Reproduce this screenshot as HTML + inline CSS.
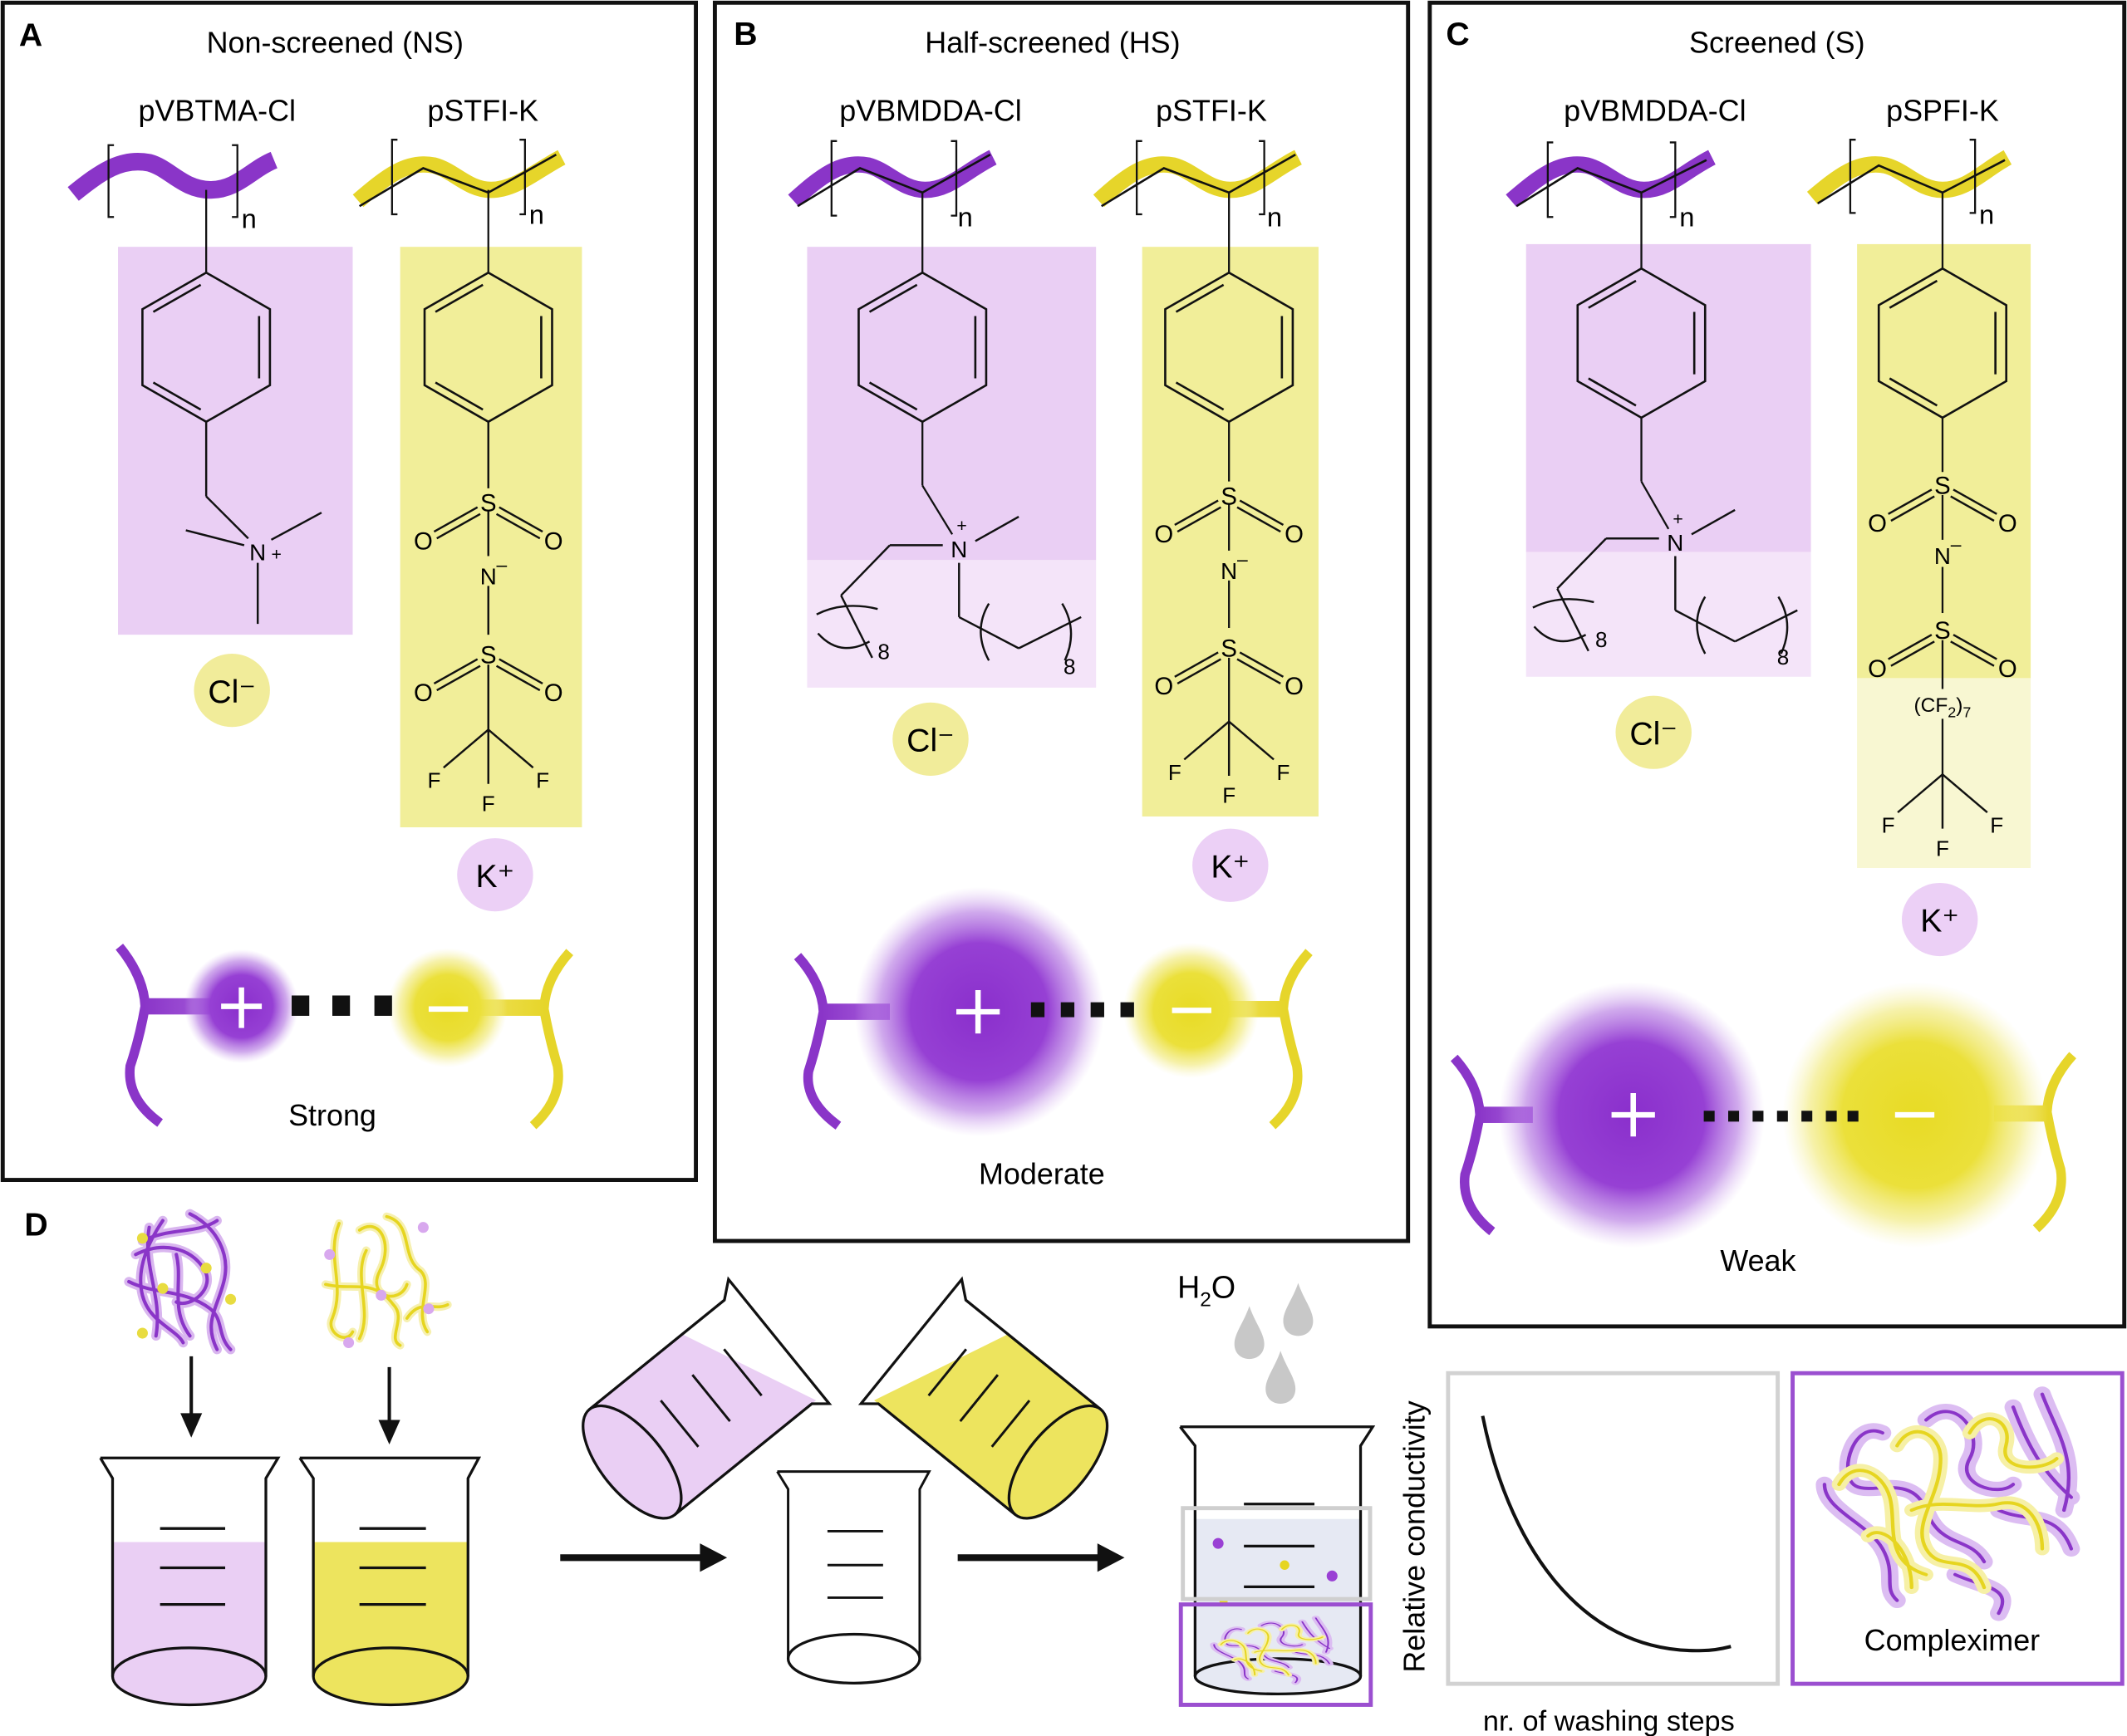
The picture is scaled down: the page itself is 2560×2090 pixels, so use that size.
<!DOCTYPE html>
<html><head><meta charset="utf-8"><style>
html,body{margin:0;padding:0;background:#fff}
svg{display:block}
text{font-family:"Liberation Sans",sans-serif}
</style></head><body>
<svg width="2560" height="2090" viewBox="0 0 1568 1280" preserveAspectRatio="none" xmlns="http://www.w3.org/2000/svg">
<defs>
<radialGradient id="gp"><stop offset="0" stop-color="#8a2fcc"/><stop offset="0.55" stop-color="#9640d4"/><stop offset="0.8" stop-color="#b070e0" stop-opacity="0.6"/><stop offset="1" stop-color="#d0a8ee" stop-opacity="0"/></radialGradient>
<radialGradient id="gy"><stop offset="0" stop-color="#e8db25"/><stop offset="0.55" stop-color="#ebe03a"/><stop offset="0.8" stop-color="#f0e870" stop-opacity="0.6"/><stop offset="1" stop-color="#f6f1a8" stop-opacity="0"/></radialGradient>
<linearGradient id="stubp" x1="0" x2="1"><stop offset="0" stop-color="#8a35c8"/><stop offset="1" stop-color="#a860dc"/></linearGradient>
<linearGradient id="stuby" x1="1" x2="0"><stop offset="0" stop-color="#e6d52a"/><stop offset="1" stop-color="#efe25a"/></linearGradient>
<g id="benz" fill="none" stroke="#111" stroke-width="1.6">
<polygon points="0,0 47,27 47,83 0,110 -47,83 -47,27"/>
<line x1="-4" y1="9" x2="-39" y2="29"/><line x1="39" y1="32" x2="39" y2="78"/><line x1="-39" y1="81" x2="-4" y2="101"/>
</g>
<g id="so2">
<g stroke="#111" stroke-width="1.5"><line x1="-8" y1="4" x2="-40" y2="22"/><line x1="-6" y1="9" x2="-38" y2="27"/><line x1="8" y1="4" x2="40" y2="22"/><line x1="6" y1="9" x2="38" y2="27"/></g>
<text x="0" y="7" font-size="18" text-anchor="middle">S</text>
<text x="-48" y="35" font-size="18" text-anchor="middle">O</text>
<text x="48" y="35" font-size="18" text-anchor="middle">O</text>
</g>
<g id="cf3" stroke="#111" stroke-width="1.5" font-size="16">
<line x1="0" y1="0" x2="-33" y2="28"/><line x1="0" y1="0" x2="33" y2="28"/><line x1="0" y1="0" x2="0" y2="40"/>
<text x="-40" y="43" stroke="none" text-anchor="middle">F</text><text x="40" y="43" stroke="none" text-anchor="middle">F</text><text x="0" y="60" stroke="none" text-anchor="middle">F</text>
</g>
<g id="quat" fill="none" stroke="#111" stroke-width="1.5">
<line x1="-12" y1="-3" x2="-51" y2="-3"/><line x1="-51" y1="-3" x2="-87" y2="34"/><line x1="-87" y1="34" x2="-64" y2="80"/>
<path d="M-105,48 Q-85,38 -60,44"/><path d="M-104,62 Q-88,80 -66,68"/>
<line x1="0" y1="10" x2="0" y2="50"/><line x1="0" y1="50" x2="44" y2="73"/><line x1="44" y1="73" x2="90" y2="50"/>
<path d="M22,40 Q10,60 22,82"/><path d="M76,40 Q88,60 78,82"/>
<line x1="12" y1="-6" x2="44" y2="-24"/>
</g>
<g id="coilP" fill="none" stroke-linecap="round">
<g stroke="#d9b6ef" stroke-width="7">
<path d="M0,10 C-5,40 10,60 5,90 M-10,30 C10,20 30,25 40,40 C50,55 30,70 20,65 M30,0 C50,10 60,30 55,50 C50,70 40,80 50,100 M-15,50 C5,60 25,55 45,70 C55,78 50,90 60,100 M10,5 C0,20 -10,40 -5,60 C0,80 20,85 25,95 M20,30 C25,50 15,70 30,90 M-5,20 C15,10 35,15 50,5"/>
</g>
<g stroke="#8a35c8" stroke-width="2.5">
<path d="M0,10 C-5,40 10,60 5,90 M-10,30 C10,20 30,25 40,40 C50,55 30,70 20,65 M30,0 C50,10 60,30 55,50 C50,70 40,80 50,100 M-15,50 C5,60 25,55 45,70 C55,78 50,90 60,100 M10,5 C0,20 -10,40 -5,60 C0,80 20,85 25,95 M20,30 C25,50 15,70 30,90 M-5,20 C15,10 35,15 50,5"/>
</g>
</g>
<g id="coilY" fill="none" stroke-linecap="round">
<g stroke="#f6f0b0" stroke-width="6">
<path d="M5,5 C-5,30 10,50 0,75 C-5,85 10,95 15,85 M20,10 C35,0 45,20 35,40 C25,60 50,65 55,50 M40,0 C60,5 50,30 65,40 C75,50 60,70 70,85 M-5,50 C15,55 30,45 45,65 C55,75 40,90 50,95 M25,25 C15,45 30,70 20,90 M55,75 C65,60 75,70 85,65"/>
</g>
<g stroke="#e6d520" stroke-width="2.2">
<path d="M5,5 C-5,30 10,50 0,75 C-5,85 10,95 15,85 M20,10 C35,0 45,20 35,40 C25,60 50,65 55,50 M40,0 C60,5 50,30 65,40 C75,50 60,70 70,85 M-5,50 C15,55 30,45 45,65 C55,75 40,90 50,95 M25,25 C15,45 30,70 20,90 M55,75 C65,60 75,70 85,65"/>
</g>
</g>
<g id="cplx" fill="none" stroke-linecap="round">
<g stroke="#dcbdf2" stroke-width="12">
<path d="M40,30 C20,20 10,60 20,70 C30,80 60,60 70,90 C80,120 100,110 110,130 M70,20 C90,0 110,30 100,50 C90,70 120,80 130,70 M130,10 C140,40 150,60 170,80 M0,70 C0,90 30,100 40,120 C50,140 40,150 50,160 M120,90 C140,100 160,90 170,120 M90,140 C110,150 130,150 120,170 M150,0 C160,30 175,50 165,90"/>
</g>
<g stroke="#8a35c8" stroke-width="2.5">
<path d="M40,30 C20,20 10,60 20,70 C30,80 60,60 70,90 C80,120 100,110 110,130 M70,20 C90,0 110,30 100,50 C90,70 120,80 130,70 M130,10 C140,40 150,60 170,80 M0,70 C0,90 30,100 40,120 C50,140 40,150 50,160 M120,90 C140,100 160,90 170,120 M90,140 C110,150 130,150 120,170 M150,0 C160,30 175,50 165,90"/>
</g>
<g stroke="#f6f0a6" stroke-width="10">
<path d="M10,70 C20,50 40,60 45,80 C50,100 40,130 70,140 M50,40 C60,20 80,30 80,50 C80,80 60,100 70,120 C80,140 100,120 110,150 M100,30 C110,10 130,20 125,40 C120,60 150,60 160,50 M60,90 C80,80 100,90 120,85 C140,80 150,100 150,120 M30,110 C40,100 60,120 60,150"/>
</g>
<g stroke="#e6d520" stroke-width="2.5">
<path d="M10,70 C20,50 40,60 45,80 C50,100 40,130 70,140 M50,40 C60,20 80,30 80,50 C80,80 60,100 70,120 C80,140 100,120 110,150 M100,30 C110,10 130,20 125,40 C120,60 150,60 160,50 M60,90 C80,80 100,90 120,85 C140,80 150,100 150,120 M30,110 C40,100 60,120 60,150"/>
</g>
</g>
<path id="drop" d="M0,0 C4,12 11,20 11,28 C11,35 6,39 0,39 C-6,39 -11,35 -11,28 C-11,20 -4,12 0,0 Z" fill="#c8c8c8"/>
</defs>

<rect x="2" y="2" width="511" height="868" fill="none" stroke="#111" stroke-width="3"/>
<rect x="527" y="2" width="511" height="913" fill="none" stroke="#111" stroke-width="3"/>
<rect x="1054" y="2" width="512" height="976" fill="none" stroke="#111" stroke-width="3"/>

<!-- Panel A -->
<text x="14" y="34" font-size="24" font-weight="bold">A</text>
<text x="247" y="39" font-size="22" text-anchor="middle">Non-screened (NS)</text>
<text x="160" y="89" font-size="22" text-anchor="middle">pVBTMA-Cl</text>
<text x="356" y="89" font-size="22" text-anchor="middle">pSTFI-K</text>
<rect x="87" y="182" width="173" height="286" fill="#eacff4"/>
<rect x="295" y="182" width="134" height="428" fill="#f1ee99"/>
<path d="M54,143 C75,126 90,116 110,120 C125,124 135,140 155,140 C175,140 185,125 202,118" fill="none" stroke="#8a35c8" stroke-width="13"/>
<path d="M264,148 C285,130 300,118 320,122 C335,126 345,140 362,140 C380,140 395,126 414,116" fill="none" stroke="#e6d52a" stroke-width="12"/>
<path d="M265,152 L312,124 L360,142 L410,114" fill="none" stroke="#111" stroke-width="1.6"/>
<g fill="none" stroke="#111" stroke-width="1.4">
<path d="M84,107 L80,107 L80,160 L84,160"/><path d="M171,107 L175,107 L175,160 L171,160"/>
<path d="M293,103 L289,103 L289,158 L293,158"/><path d="M383,103 L387,103 L387,158 L383,158"/>
<line x1="152" y1="140" x2="152" y2="201"/><line x1="360" y1="140" x2="360" y2="201"/>
</g>
<text x="178" y="168" font-size="20">n</text><text x="390" y="165" font-size="20">n</text>
<use href="#benz" x="152" y="201"/>
<use href="#benz" x="360" y="201"/>
<g stroke="#111" stroke-width="1.5" fill="none">
<line x1="152" y1="311" x2="152" y2="366"/><line x1="152" y1="366" x2="183" y2="397"/>
<line x1="137" y1="391" x2="180" y2="402"/><line x1="200" y1="398" x2="237" y2="378"/><line x1="190" y1="415" x2="190" y2="460"/>
<line x1="360" y1="311" x2="360" y2="360"/><line x1="360" y1="377" x2="360" y2="410"/><line x1="360" y1="432" x2="360" y2="468"/><line x1="360" y1="490" x2="360" y2="538"/>
</g>
<text x="190" y="413" font-size="17" text-anchor="middle">N</text><text x="200" y="413" font-size="13">+</text>
<use href="#so2" x="360" y="370"/>
<text x="360" y="431" font-size="17" text-anchor="middle">N</text><text x="366" y="421" font-size="14">–</text>
<use href="#so2" x="360" y="482"/>
<use href="#cf3" x="360" y="538"/>
<ellipse cx="171" cy="509" rx="28" ry="27" fill="#f1ec9a"/>
<text x="171" y="518" font-size="24" text-anchor="middle">Cl⁻</text>
<ellipse cx="365" cy="645" rx="28" ry="27" fill="#ecd0f6"/>
<text x="365" y="654" font-size="24" text-anchor="middle">K⁺</text>
<path d="M88,698 Q106,720 107,742 Q103,765 96,786 Q93,810 118,828" fill="none" stroke="#8a35c8" stroke-width="7"/>
<rect x="106" y="736" width="60" height="12" fill="url(#stubp)"/>
<circle cx="178" cy="742" r="42" fill="url(#gp)"/>
<path d="M420,702 Q402,722 401,744 Q405,766 411,786 Q415,810 393,830" fill="none" stroke="#e6d52a" stroke-width="7"/>
<rect x="345" y="737" width="57" height="12" fill="url(#stuby)"/>
<circle cx="330" cy="743" r="44" fill="url(#gy)"/>
<rect x="215" y="734" width="13" height="15" fill="#111"/><rect x="245" y="734" width="13" height="15" fill="#111"/><rect x="276" y="734" width="13" height="15" fill="#111"/>
<path d="M178,728 V758 M163,742 H193" stroke="#fff" stroke-width="4"/>
<path d="M316,744 H345" stroke="#fff" stroke-width="4"/>
<text x="245" y="830" font-size="22" text-anchor="middle">Strong</text>

<!-- Panel B -->
<text x="541" y="33" font-size="24" font-weight="bold">B</text>
<text x="776" y="39" font-size="22" text-anchor="middle">Half-screened (HS)</text>
<text x="686" y="89" font-size="22" text-anchor="middle">pVBMDDA-Cl</text>
<text x="893" y="89" font-size="22" text-anchor="middle">pSTFI-K</text>
<rect x="595" y="182" width="213" height="231" fill="#eacff4"/>
<rect x="595" y="413" width="213" height="94" fill="#f4e4f9"/>
<rect x="842" y="182" width="130" height="420" fill="#f1ee99"/>
<path d="M585,148 C605,130 620,118 640,122 C655,126 665,140 682,140 C700,140 712,126 732,116" fill="none" stroke="#8a35c8" stroke-width="12"/>
<path d="M588,152 L634,124 L680,142 L730,114" fill="none" stroke="#111" stroke-width="1.6"/>
<path d="M810,148 C830,130 845,118 865,122 C880,126 890,140 907,140 C925,140 937,126 957,116" fill="none" stroke="#e6d52a" stroke-width="12"/>
<path d="M812,152 L858,124 L906,142 L955,114" fill="none" stroke="#111" stroke-width="1.6"/>
<g fill="none" stroke="#111" stroke-width="1.4">
<path d="M617,104 L613,104 L613,159 L617,159"/><path d="M701,104 L705,104 L705,159 L701,159"/>
<path d="M842,104 L838,104 L838,158 L842,158"/><path d="M928,104 L932,104 L932,158 L928,158"/>
<line x1="680" y1="142" x2="680" y2="201"/><line x1="906" y1="142" x2="906" y2="201"/>
<line x1="680" y1="311" x2="680" y2="358"/><line x1="680" y1="358" x2="702" y2="394"/>
<line x1="906" y1="311" x2="906" y2="355"/><line x1="906" y1="372" x2="906" y2="406"/><line x1="906" y1="428" x2="906" y2="463"/><line x1="906" y1="485" x2="906" y2="532"/>
</g>
<text x="706" y="167" font-size="20">n</text><text x="934" y="167" font-size="20">n</text>
<use href="#benz" x="680" y="201"/><use href="#benz" x="906" y="201"/>
<use href="#quat" x="707" y="405"/>
<text x="707" y="411" font-size="17" text-anchor="middle">N</text><text x="709" y="392" font-size="13" text-anchor="middle">+</text>
<text x="647" y="486" font-size="16">8</text><text x="784" y="497" font-size="16">8</text>
<use href="#so2" x="906" y="365"/>
<text x="906" y="427" font-size="17" text-anchor="middle">N</text><text x="912" y="417" font-size="14">–</text>
<use href="#so2" x="906" y="477"/>
<use href="#cf3" x="906" y="532"/>
<ellipse cx="686" cy="545" rx="28" ry="27" fill="#f1ec9a"/>
<text x="686" y="554" font-size="24" text-anchor="middle">Cl⁻</text>
<ellipse cx="907" cy="638" rx="28" ry="27" fill="#ecd0f6"/>
<text x="907" y="647" font-size="24" text-anchor="middle">K⁺</text>
<path d="M588,705 Q606,725 607,746 Q603,768 596,790 Q593,812 618,830" fill="none" stroke="#8a35c8" stroke-width="7"/>
<rect x="606" y="740" width="50" height="12" fill="url(#stubp)"/>
<circle cx="722" cy="746" r="92" fill="url(#gp)"/>
<path d="M965,702 Q947,722 946,744 Q950,766 956,786 Q960,810 938,830" fill="none" stroke="#e6d52a" stroke-width="7"/>
<rect x="900" y="738" width="48" height="12" fill="url(#stuby)"/>
<circle cx="878" cy="745" r="50" fill="url(#gy)"/>
<rect x="760" y="739" width="10" height="11" fill="#111"/><rect x="782" y="739" width="10" height="11" fill="#111"/><rect x="804" y="739" width="10" height="11" fill="#111"/><rect x="826" y="739" width="10" height="11" fill="#111"/>
<path d="M721,730 V762 M705,746 H737" stroke="#fff" stroke-width="4"/>
<path d="M864,745 H893" stroke="#fff" stroke-width="4"/>
<text x="768" y="873" font-size="22" text-anchor="middle">Moderate</text>

<!-- Panel C -->
<text x="1066" y="33" font-size="24" font-weight="bold">C</text>
<text x="1310" y="39" font-size="22" text-anchor="middle">Screened (S)</text>
<text x="1220" y="89" font-size="22" text-anchor="middle">pVBMDDA-Cl</text>
<text x="1432" y="89" font-size="22" text-anchor="middle">pSPFI-K</text>
<rect x="1125" y="180" width="210" height="227" fill="#eacff4"/>
<rect x="1125" y="407" width="210" height="92" fill="#f4e4f9"/>
<rect x="1369" y="180" width="128" height="320" fill="#f1ee99"/>
<rect x="1369" y="500" width="128" height="140" fill="#f8f7d2"/>
<path d="M1114,148 C1135,130 1150,118 1170,122 C1185,126 1195,140 1212,140 C1230,140 1242,126 1262,116" fill="none" stroke="#8a35c8" stroke-width="12"/>
<path d="M1118,152 L1163,124 L1210,142 L1258,118" fill="none" stroke="#111" stroke-width="1.6"/>
<path d="M1336,146 C1355,130 1370,118 1390,122 C1405,126 1415,140 1432,140 C1450,140 1462,126 1480,116" fill="none" stroke="#e6d52a" stroke-width="12"/>
<path d="M1340,150 L1385,122 L1432,142 L1478,118" fill="none" stroke="#111" stroke-width="1.6"/>
<g fill="none" stroke="#111" stroke-width="1.4">
<path d="M1145,105 L1141,105 L1141,160 L1145,160"/><path d="M1231,105 L1235,105 L1235,160 L1231,160"/>
<path d="M1368,103 L1364,103 L1364,157 L1368,157"/><path d="M1452,103 L1456,103 L1456,157 L1452,157"/>
<line x1="1210" y1="142" x2="1210" y2="198"/><line x1="1432" y1="142" x2="1432" y2="198"/>
<line x1="1210" y1="308" x2="1210" y2="355"/><line x1="1210" y1="355" x2="1230" y2="390"/>
<line x1="1432" y1="308" x2="1432" y2="348"/><line x1="1432" y1="365" x2="1432" y2="398"/><line x1="1432" y1="418" x2="1432" y2="452"/><line x1="1432" y1="472" x2="1432" y2="508"/><line x1="1432" y1="530" x2="1432" y2="571"/>
</g>
<text x="1238" y="167" font-size="20">n</text><text x="1459" y="165" font-size="20">n</text>
<use href="#benz" x="1210" y="198"/><use href="#benz" x="1432" y="198"/>
<use href="#quat" x="1235" y="400"/>
<text x="1235" y="406" font-size="17" text-anchor="middle">N</text><text x="1237" y="387" font-size="13" text-anchor="middle">+</text>
<text x="1176" y="477" font-size="16">8</text><text x="1310" y="490" font-size="16">8</text>
<use href="#so2" x="1432" y="357"/>
<text x="1432" y="416" font-size="17" text-anchor="middle">N</text><text x="1438" y="406" font-size="14">–</text>
<use href="#so2" x="1432" y="464"/>
<text x="1432" y="525" font-size="15" text-anchor="middle">(CF<tspan font-size="11" dy="4">2</tspan><tspan dy="-4">)</tspan><tspan font-size="11" dy="4">7</tspan></text>
<use href="#cf3" x="1432" y="571"/>
<ellipse cx="1219" cy="540" rx="28" ry="27" fill="#f1ec9a"/>
<text x="1219" y="549" font-size="24" text-anchor="middle">Cl⁻</text>
<ellipse cx="1430" cy="678" rx="28" ry="27" fill="#ecd0f6"/>
<text x="1430" y="687" font-size="24" text-anchor="middle">K⁺</text>
<path d="M1072,780 Q1090,800 1091,822 Q1087,845 1080,866 Q1077,890 1100,908" fill="none" stroke="#8a35c8" stroke-width="7"/>
<rect x="1090" y="816" width="40" height="12" fill="url(#stubp)"/>
<circle cx="1203" cy="822" r="98" fill="url(#gp)"/>
<path d="M1528,778 Q1510,798 1509,820 Q1513,842 1519,862 Q1523,886 1501,906" fill="none" stroke="#e6d52a" stroke-width="7"/>
<rect x="1470" y="815" width="40" height="12" fill="url(#stuby)"/>
<circle cx="1412" cy="822" r="98" fill="url(#gy)"/>
<g fill="#111"><rect x="1256" y="819" width="8" height="8"/><rect x="1274" y="819" width="8" height="8"/><rect x="1292" y="819" width="8" height="8"/><rect x="1310" y="819" width="8" height="8"/><rect x="1328" y="819" width="8" height="8"/><rect x="1346" y="819" width="8" height="8"/><rect x="1362" y="819" width="8" height="8"/></g>
<path d="M1204,806 V838 M1188,822 H1220" stroke="#fff" stroke-width="4"/>
<path d="M1397,822 H1426" stroke="#fff" stroke-width="4"/>
<text x="1296" y="937" font-size="22" text-anchor="middle">Weak</text>

<!-- Panel D -->
<text x="18" y="911" font-size="24" font-weight="bold">D</text>
<use href="#coilP" x="110" y="895"/>
<g fill="#e8dc40"><circle cx="105" cy="913" r="4"/><circle cx="152" cy="935" r="4"/><circle cx="120" cy="950" r="4"/><circle cx="170" cy="958" r="4"/><circle cx="105" cy="983" r="4"/></g>
<use href="#coilY" x="245" y="897"/>
<g fill="#d8a8ee"><circle cx="312" cy="905" r="4"/><circle cx="243" cy="925" r="4"/><circle cx="281" cy="955" r="4"/><circle cx="316" cy="965" r="4"/><circle cx="257" cy="990" r="4"/></g>
<g stroke="#111" stroke-width="2.5"><line x1="141" y1="1000" x2="141" y2="1045"/><line x1="287" y1="1008" x2="287" y2="1050"/></g>
<polygon points="133,1042 149,1042 141,1060" fill="#111"/><polygon points="279,1047 295,1047 287,1065" fill="#111"/>
<rect x="83" y="1137" width="113" height="99" fill="#eacff4"/>
<ellipse cx="139.5" cy="1236" rx="56.5" ry="21" fill="#eacff4" stroke="#111" stroke-width="2"/>
<path d="M74,1075 L205,1075 L196,1090 L196,1236 M74,1075 L83,1090 L83,1236" fill="none" stroke="#111" stroke-width="2"/>
<g stroke="#111" stroke-width="2"><line x1="118" y1="1127" x2="166" y2="1127"/><line x1="118" y1="1156" x2="166" y2="1156"/><line x1="118" y1="1183" x2="166" y2="1183"/></g>
<rect x="231" y="1137" width="114" height="99" fill="#ede45e"/>
<ellipse cx="288" cy="1236" rx="57" ry="21" fill="#ede45e" stroke="#111" stroke-width="2"/>
<path d="M221,1075 L353,1075 L345,1090 L345,1236 M221,1075 L231,1090 L231,1236" fill="none" stroke="#111" stroke-width="2"/>
<g stroke="#111" stroke-width="2"><line x1="265" y1="1127" x2="314" y2="1127"/><line x1="265" y1="1156" x2="314" y2="1156"/><line x1="265" y1="1183" x2="314" y2="1183"/></g>
<line x1="413" y1="1148.5" x2="520" y2="1148.5" stroke="#111" stroke-width="5"/><polygon points="516,1138 536,1148.5 516,1159" fill="#111"/>
<line x1="706" y1="1148.5" x2="813" y2="1148.5" stroke="#111" stroke-width="5"/><polygon points="809,1138 829,1148.5 809,1159" fill="#111"/>
<g transform="translate(466,1078) rotate(51)">
<polygon points="-50,-88 50,-134 50,0 -50,0" fill="#eacff4"/>
<ellipse cx="0" cy="0" rx="50" ry="23" fill="#eacff4" stroke="#111" stroke-width="2"/>
<path d="M-50,0 L-50,-128 L-60,-140 L58,-140 L50,-130 L50,0" fill="none" stroke="#111" stroke-width="2"/>
<g stroke="#111" stroke-width="1.8"><line x1="-22" y1="-45" x2="22" y2="-45"/><line x1="-22" y1="-75" x2="22" y2="-75"/><line x1="-22" y1="-105" x2="22" y2="-105"/></g>
</g>
<g transform="translate(1246,0) scale(-1,1) translate(466,1078) rotate(51)">
<polygon points="-50,-88 50,-134 50,0 -50,0" fill="#ede45e"/>
<ellipse cx="0" cy="0" rx="50" ry="23" fill="#ede45e" stroke="#111" stroke-width="2"/>
<path d="M-50,0 L-50,-128 L-60,-140 L58,-140 L50,-130 L50,0" fill="none" stroke="#111" stroke-width="2"/>
<g stroke="#111" stroke-width="1.8"><line x1="-22" y1="-45" x2="22" y2="-45"/><line x1="-22" y1="-75" x2="22" y2="-75"/><line x1="-22" y1="-105" x2="22" y2="-105"/></g>
</g>
<ellipse cx="629.5" cy="1223" rx="48.5" ry="18" fill="#fff" stroke="#111" stroke-width="2"/>
<path d="M573,1085 L685,1085 L678,1098 L678,1223 M573,1085 L581,1098 L581,1223" fill="none" stroke="#111" stroke-width="1.8"/>
<g stroke="#111" stroke-width="1.8"><line x1="610" y1="1129" x2="651" y2="1129"/><line x1="610" y1="1154" x2="651" y2="1154"/><line x1="610" y1="1178" x2="651" y2="1178"/></g>
<text x="868" y="957" font-size="23">H<tspan font-size="15" dy="6">2</tspan><tspan dy="-6">O</tspan></text>
<use href="#drop" x="921" y="963"/><use href="#drop" x="957" y="946"/><use href="#drop" x="944" y="996"/>
<rect x="881" y="1120" width="122" height="116" fill="#e6e9f3"/>
<ellipse cx="942" cy="1236" rx="61" ry="13" fill="#e6e9f3" stroke="#111" stroke-width="2"/>
<path d="M870,1052 L1012,1052 L1003,1066 L1003,1236 M870,1052 L881,1066 L881,1236" fill="none" stroke="#111" stroke-width="2"/>
<g stroke="#111" stroke-width="2"><line x1="917" y1="1109" x2="969" y2="1109"/><line x1="917" y1="1140" x2="969" y2="1140"/><line x1="917" y1="1170" x2="969" y2="1170"/></g>
<circle cx="898" cy="1138" r="4" fill="#9a40d4"/><circle cx="947" cy="1154" r="3.5" fill="#e6d520"/><circle cx="982" cy="1162" r="4" fill="#9a40d4"/><circle cx="902" cy="1181" r="3" fill="#e6d520"/>
<use href="#cplx" transform="translate(895,1193) scale(0.5,0.28)"/>
<rect x="872" y="1112" width="138" height="67" fill="none" stroke="#cfcfcf" stroke-width="3"/>
<rect x="870.5" y="1183" width="140" height="74" fill="none" stroke="#9b4fd0" stroke-width="3"/>
<rect x="1067.5" y="1012.5" width="243" height="229" fill="none" stroke="#d2d2d2" stroke-width="3"/>
<path d="M1093,1044 C1110,1130 1160,1220 1255,1217 C1265,1217 1272,1215 1276,1214" fill="none" stroke="#111" stroke-width="2.5"/>
<text transform="translate(1050,1133) rotate(-90)" font-size="22" text-anchor="middle">Relative conductivity</text>
<text x="1186" y="1276" font-size="21" text-anchor="middle">nr. of washing steps</text>
<rect x="1321.5" y="1012.5" width="243" height="229" fill="none" stroke="#9b4fd0" stroke-width="3"/>
<use href="#cplx" transform="translate(1345,1028) scale(1.07,0.95)"/>
<text x="1439" y="1217" font-size="22" text-anchor="middle">Compleximer</text>
</svg>
</body></html>
